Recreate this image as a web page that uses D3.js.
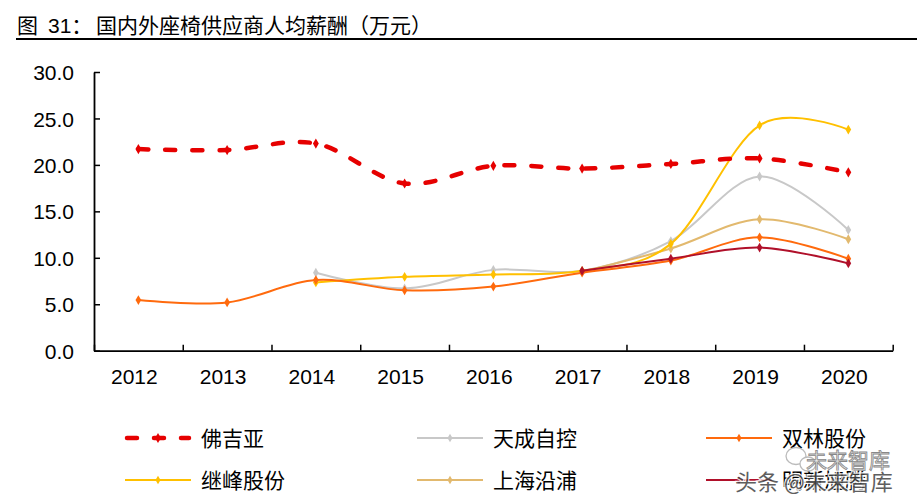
<!DOCTYPE html>
<html>
<head>
<meta charset="utf-8">
<script src="https://cdn.jsdelivr.net/npm/d3@7"></script>
<style>
  html, body { margin: 0; padding: 0; background: #fff; }
  svg { display: block; }
  text { font-family: "Liberation Sans", Arial, "Noto Sans CJK SC", sans-serif; fill: #000; }
  .cjk { font-family: "Noto Sans CJK SC", "Liberation Sans", sans-serif; }
</style>
</head>
<body>
<div id="chart"></div>
<script>
// data (万元)
var years = ['2012', '2013', '2014', '2015', '2016', '2017', '2018', '2019', '2020'];
var yTicks = [0, 5, 10, 15, 20, 25, 30];

var faurecia  = [21.7, 21.6, 22.3, 18.0, 19.9, 19.6, 20.1, 20.7, 19.2];
var tiancheng = [null, null, 8.4, 6.7, 8.7, 8.6, 11.8, 18.75, 13.0];
var shuanglin = [5.45, 5.2, 7.6, 6.5, 6.9, 8.4, 9.7, 12.2, 9.9];
var jifeng    = [null, null, 7.35, 7.95, 8.2, 8.6, 11.5, 24.25, 23.8];
var yanpu     = [null, null, null, null, null, 8.5, 11.0, 14.15, 12.0];
var mingxin   = [null, null, null, null, null, 8.6, 9.9, 11.1, 9.4];

var series = [
  {name: '佛吉亚',   values: faurecia,  color: '#E60000', width: 4.5, dash: '10,17', col: 0, row: 0},
  {name: '天成自控', values: tiancheng, color: '#C8C8C8', width: 2,   dash: null,    col: 1, row: 0},
  {name: '双林股份', values: shuanglin, color: '#FF6A0D', width: 2,   dash: null,    col: 2, row: 0},
  {name: '继峰股份', values: jifeng,    color: '#FFC000', width: 2,   dash: null,    col: 0, row: 1},
  {name: '上海沿浦', values: yanpu,     color: '#E2B96E', width: 2,   dash: null,    col: 1, row: 1},
  {name: '明新旭腾', values: mingxin,   color: '#B0102A', width: 2,   dash: null,    col: 2, row: 1}
];

var width = 917, height = 502;
var plot = {left: 94, right: 892.7, top: 72, bottom: 350.7};

var svg = d3.select('#chart').append('svg')
  .attr('width', width)
  .attr('height', height);

// title
var title = svg.append('text')
  .attr('x', 17)
  .attr('y', 33)
  .style('font-size', '21px')
  .style('white-space', 'pre');
title.append('tspan').text('图');
title.append('tspan').attr('x', 48).text('31：');
title.append('tspan').attr('x', 96).text('国内外座椅供应商人均薪酬（万元）');

svg.append('line')
  .attr('x1', 16).attr('x2', 917)
  .attr('y1', 39).attr('y2', 39)
  .attr('stroke', '#000')
  .attr('stroke-width', 2);

var xScale = d3.scaleBand()
  .domain(years)
  .range([plot.left, plot.right]);

var xEdge = d3.scaleLinear()
  .domain([0, years.length])
  .range([plot.left, plot.right]);

var yScale = d3.scaleLinear()
  .domain([0, 30])
  .range([plot.bottom, plot.top]);

// y axis
var yAxis = d3.axisLeft(yScale)
  .tickValues(yTicks)
  .tickFormat(d3.format('.1f'))
  .tickSizeInner(-6)
  .tickSizeOuter(0)
  .tickPadding(20);

var gy = svg.append('g')
  .attr('transform', 'translate(' + plot.left + ',0)')
  .call(yAxis);
gy.select('.domain').attr('stroke', '#000').attr('stroke-width', 1.8);
gy.selectAll('.tick line').attr('stroke', '#000').attr('stroke-width', 1.5);
gy.selectAll('.tick text')
  .style('font-size', '21px')
  .attr('dy', '0.36em');

// x axis: ticks at category edges, labels at centres
var gxTicks = svg.append('g')
  .attr('transform', 'translate(0,' + plot.bottom + ')')
  .call(d3.axisBottom(xEdge)
    .tickValues(d3.range(years.length + 1))
    .tickFormat('')
    .tickSizeInner(-6)
    .tickSizeOuter(0));
gxTicks.select('.domain').attr('stroke', '#000').attr('stroke-width', 1.8);
gxTicks.selectAll('.tick line').attr('stroke', '#000').attr('stroke-width', 1.5);

var gxLabels = svg.append('g')
  .attr('transform', 'translate(0,' + plot.bottom + ')')
  .call(d3.axisBottom(xScale).tickSize(0).tickPadding(18.5));
gxLabels.select('.domain').remove();
gxLabels.selectAll('.tick text')
  .style('font-size', '21px')
  .attr('dx', -4);

// lines
var line = d3.line()
  .defined(function (d) { return d != null; })
  .x(function (d, i) { return xScale(years[i]) + xScale.bandwidth() / 2; })
  .y(function (d) { return yScale(d); })
  .curve(d3.curveCardinal.tension(0));

var marker = d3.symbol().type(d3.symbolDiamond);

var drawOrder = [1, 4, 3, 2, 5, 0];
drawOrder.forEach(function (k) {
  var s = series[k];
  var g = svg.append('g');
  g.append('path')
    .datum(s.values)
    .attr('d', line)
    .attr('fill', 'none')
    .attr('stroke', s.color)
    .attr('stroke-width', s.width)
    .attr('stroke-linecap', s.dash ? 'round' : 'butt')
    .attr('stroke-dasharray', s.dash);

  g.selectAll('path.pt')
    .data(s.values.map(function (v, i) { return {v: v, i: i}; })
      .filter(function (d) { return d.v != null; }))
    .enter()
    .append('path')
    .attr('class', 'pt')
    .attr('d', marker.size(s.dash ? 30 : 28))
    .attr('transform', function (d) {
      return 'translate(' + (xScale(years[d.i]) + xScale.bandwidth() / 2) + ',' + yScale(d.v) + ')';
    })
    .attr('fill', s.color);
});

// legend
var legCols = [125, 417, 706];
var legRows = [438, 480];
var legLine = 66;

var leg = svg.append('g');
series.forEach(function (s) {
  var x = legCols[s.col], y = legRows[s.row];
  var item = leg.append('g');
  item.append('line')
    .attr('x1', x + (s.dash ? 2 : 0)).attr('x2', x + legLine - (s.dash ? 2 : 0))
    .attr('y1', y).attr('y2', y)
    .attr('stroke', s.color)
    .attr('stroke-width', s.width)
    .attr('stroke-linecap', s.dash ? 'round' : 'butt')
    .attr('stroke-dasharray', s.dash);
  item.append('path')
    .attr('d', marker.size(s.dash ? 30 : 22))
    .attr('transform', 'translate(' + (x + legLine / 2) + ',' + y + ')')
    .attr('fill', s.color);
  item.append('text')
    .attr('class', 'cjk')
    .attr('x', x + legLine + 10)
    .attr('y', y + 8)
    .style('font-size', '21px')
    .text(s.name);
});

// watermark
var wm = svg.append('g');
wm.append('ellipse')
  .attr('cx', 796).attr('cy', 456).attr('rx', 10).attr('ry', 8.5)
  .attr('fill', 'none').attr('stroke', '#bbb').attr('stroke-width', 1.3);
wm.append('ellipse')
  .attr('cx', 808).attr('cy', 464).attr('rx', 8).attr('ry', 7)
  .attr('fill', '#fff').attr('stroke', '#bbb').attr('stroke-width', 1.3);
wm.append('text')
  .attr('class', 'cjk')
  .attr('x', 806).attr('y', 468)
  .style('font-size', '21px')
  .style('fill', '#e8e8e8')
  .attr('stroke', '#888')
  .attr('stroke-width', 0.8)
  .text('未来智库');
wm.append('text')
  .attr('class', 'cjk')
  .attr('x', 735).attr('y', 490)
  .style('font-size', '22px')
  .style('fill', '#444')
  .style('paint-order', 'stroke')
  .attr('stroke', '#fff')
  .attr('stroke-width', 2.5)
  .style('opacity', 0.85)
  .text('头条 @未来智库');
</script>
</body>
</html>
